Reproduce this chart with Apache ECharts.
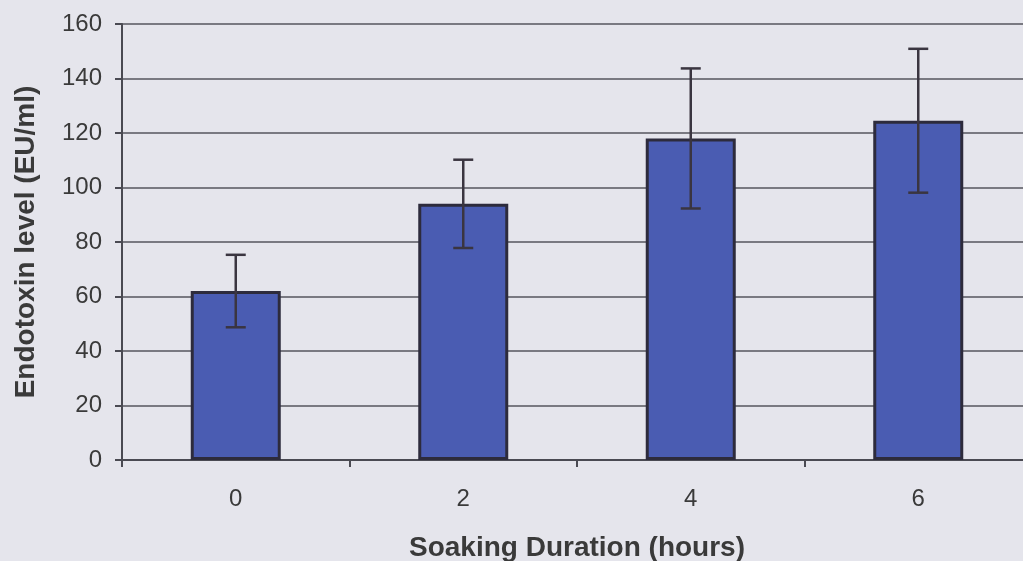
<!DOCTYPE html>
<html>
<head>
<meta charset="utf-8">
<script src="https://cdn.jsdelivr.net/npm/echarts@6/dist/echarts.min.js"></script>
<style>
  html, body { margin: 0; padding: 0; background: #e5e5ec; }
  #chart { width: 1023px; height: 561px; }
</style>
</head>
<body>
<div id="chart"></div>
<script>
// Soaking duration categories (hours)
const categories = ['0', '2', '4', '6'];
// Mean endotoxin level (EU/ml)
const meanValues = [62, 94, 118, 124.5];
// Error bar half-widths (EU/ml)
const errorValues = [13.3, 16.2, 25.7, 26.4];
// Y-axis range
const yMin = 0, yMax = 160, yStep = 20;

const errorData = categories.map((c, i) => [i, meanValues[i] - errorValues[i], meanValues[i] + errorValues[i]]);

const chart = echarts.init(document.getElementById('chart'));
chart.setOption({
  backgroundColor: '#e5e5ec',
  animation: false,
  // plot area runs slightly past the right edge of the canvas
  grid: { left: 122, width: 910, top: 24, bottom: 101, outerBoundsMode: 'none', containLabel: false },
  xAxis: {
    type: 'category',
    data: categories,
    boundaryGap: true,
    name: 'Soaking Duration (hours)',
    nameLocation: 'middle',
    nameGap: 74,
    nameTextStyle: { fontFamily: 'Liberation Sans, Arial', fontWeight: 'bold', fontSize: 28, color: '#3a3a3a' },
    axisLine: { lineStyle: { color: '#4a4a52', width: 2 } },
    axisTick: { show: true, alignWithLabel: false, length: 7, lineStyle: { color: '#4a4a52', width: 2 } },
    axisLabel: { fontFamily: 'Liberation Sans, Arial', fontSize: 24, color: '#3a3a3a', margin: 27 },
    splitLine: { show: false }
  },
  yAxis: {
    type: 'value',
    min: yMin, max: yMax, interval: yStep,
    name: 'Endotoxin level (EU/ml)',
    nameLocation: 'middle',
    nameGap: 82,
    nameTextStyle: { fontFamily: 'Liberation Sans, Arial', fontWeight: 'bold', fontSize: 28, color: '#3a3a3a' },
    axisLine: { show: true, lineStyle: { color: '#4a4a52', width: 2 } },
    axisTick: { show: true, length: 7, lineStyle: { color: '#4a4a52', width: 2 } },
    axisLabel: { fontFamily: 'Liberation Sans, Arial', fontSize: 24, color: '#3a3a3a', margin: 20 },
    splitLine: { show: true, lineStyle: { color: '#55555e', width: 1.5 } }
  },
  series: [
    {
      type: 'bar',
      data: meanValues,
      barWidth: 90,
      itemStyle: { color: '#4a5cb2', borderColor: '#2d2b3c', borderWidth: 3 }
    },
    {
      type: 'custom',
      data: errorData,
      z: 10,
      renderItem: function (params, api) {
        const x = api.value(0);
        const lo = api.coord([x, api.value(1)]);
        const hi = api.coord([x, api.value(2)]);
        const cap = 10;
        const style = { stroke: '#3a3540', lineWidth: 2.5 };
        return {
          type: 'group',
          children: [
            { type: 'line', shape: { x1: lo[0], y1: lo[1], x2: hi[0], y2: hi[1] }, style: style },
            { type: 'line', shape: { x1: hi[0] - cap, y1: hi[1], x2: hi[0] + cap, y2: hi[1] }, style: style },
            { type: 'line', shape: { x1: lo[0] - cap, y1: lo[1], x2: lo[0] + cap, y2: lo[1] }, style: style }
          ]
        };
      }
    }
  ]
});
</script>
</body>
</html>
